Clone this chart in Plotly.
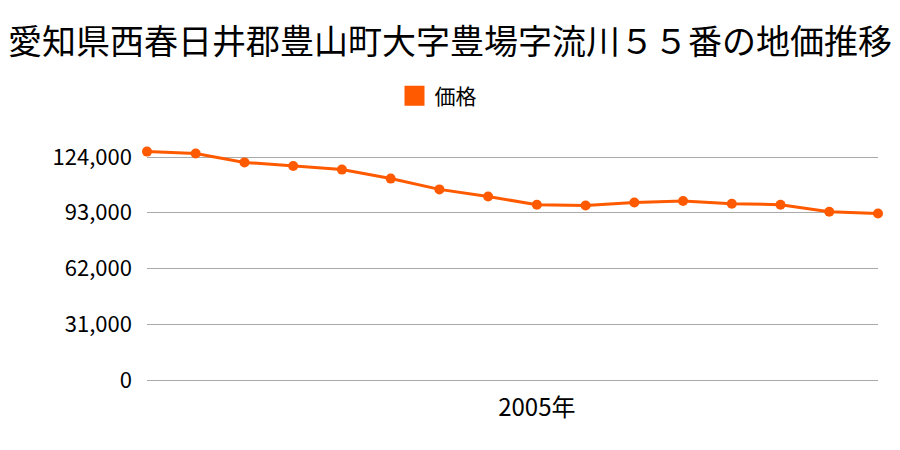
import plotly.graph_objects as go

years = list(range(1997, 2013))
prices = [127000, 126000, 121000, 119000, 117000, 112000, 106000, 102000,
          97500, 97000, 98700, 99500, 98000, 97500, 93600, 92600]
y_ticks = [0, 31000, 62000, 93000, 124000]
y_tick_labels = ["0", "31,000", "62,000", "93,000", "124,000"]
y_max = 133460
x_ticks = [2005]
x_tick_labels = ["2005年"]
title = "愛知県西春日井郡豊山町大字豊場字流川５５番の地価推移"
series_name = "価格"
color = "#ff5a00"
font_family = "Noto Sans CJK JP"

fig = go.Figure()
fig.add_trace(go.Scatter(
    x=years, y=prices, mode="lines+markers", name=series_name,
    line=dict(color=color, width=3),
    marker=dict(color=color, size=10),
    showlegend=False, cliponaxis=False,
))
fig.add_trace(go.Scatter(
    x=[None], y=[None], mode="markers", name=series_name,
    marker=dict(color=color, size=16, symbol="square",
                line=dict(color=color, width=4)),
    showlegend=True,
))

fig.update_layout(
    width=900, height=450, template="plotly_white",
    paper_bgcolor="white", plot_bgcolor="white",
    margin=dict(l=139, r=30, t=132, b=78, autoexpand=False),
    title=dict(text=title, x=442 / 900, xanchor="center", y=1 - 34 / 450, yanchor="middle",
               xref="container", yref="container",
               font=dict(family=font_family, size=34, color="#000")),
    legend=dict(orientation="h", x=430 / 900, xanchor="center", y=1 - 88 / 450, yanchor="middle",
                xref="container", yref="container",
                font=dict(family=font_family, size=21, color="#000"),
                itemsizing="trace"),
    font=dict(family=font_family, color="#000"),
    showlegend=True,
)
fig.update_xaxes(
    range=[years[0], years[-1]], tickvals=x_ticks, ticktext=x_tick_labels,
    showgrid=False, zeroline=False, showline=False, ticks="", automargin=False,
    ticklabelstandoff=11,
    tickfont=dict(family=font_family, size=24, color="#000"),
)
fig.update_yaxes(
    range=[0, y_max], tickvals=y_ticks, ticktext=y_tick_labels,
    showgrid=True, gridcolor="#aaaaaa", gridwidth=1,
    zeroline=True, zerolinecolor="#aaaaaa", zerolinewidth=1,
    showline=False, ticks="", automargin=False,
    ticklabelstandoff=14,
    tickfont=dict(family=font_family, size=22, color="#000"),
)

fig.write_html("out.html")
